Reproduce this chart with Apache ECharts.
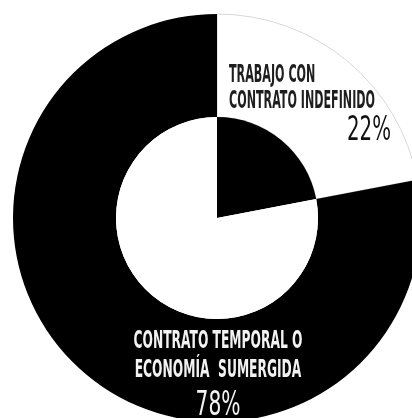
<!DOCTYPE html>
<html>
<head>
<meta charset="utf-8">
<script src="https://cdn.jsdelivr.net/npm/echarts@6/dist/echarts.min.js"></script>
<style>
html,body{margin:0;padding:0;background:#fff;}
#c{width:412px;height:418px;}
</style>
</head>
<body>
<div id="c"></div>
<script>
var categories = ['TRABAJO CON CONTRATO INDEFINIDO', 'CONTRATO TEMPORAL O ECONOMÍA SUMERGIDA'];
var values = [22, 78];
var labelLines = [['TRABAJO CON', 'CONTRATO INDEFINIDO'], ['CONTRATO TEMPORAL O', 'ECONOMÍA  SUMERGIDA']];
var percentLabels = ['22%', '78%'];

var FONT = '"Liberation Sans Narrow", "DejaVu Sans Condensed", "Liberation Sans", sans-serif';
var cv = document.createElement('canvas').getContext('2d');
function w(text, size, weight) {
  cv.font = weight + ' ' + size + 'px ' + FONT;
  return cv.measureText(text).width;
}
function sx(text, size, weight, target) { return target / w(text, size, weight); }

var chart = echarts.init(document.getElementById('c'), null, {renderer: 'canvas'});
var cx = 217, cy = 218, rOut = 204, rIn = 101;

var topScale = sx(labelLines[0][1], 22, 'bold', 146);
var botScale = sx(labelLines[1][0], 22, 'bold', 169);
var p1Scale = sx(percentLabels[0], 32, 'normal', 44);
var p2Scale = sx(percentLabels[1], 32, 'normal', 45);

function txt(text, x, y, size, weight, color, align, scale, scy) {
  return {
    type: 'text', x: x, y: y, scaleX: scale, scaleY: scy, z: 100,
    style: {text: text, font: weight + ' ' + size + 'px ' + FONT, fill: color,
            textAlign: align, textVerticalAlign: 'middle'}
  };
}

chart.setOption({
  animation: false,
  backgroundColor: '#fff',
  series: [
    {
      type: 'pie', center: [cx, cy], radius: [rIn, rOut], startAngle: 90, clockwise: true,
      label: {show: false}, labelLine: {show: false}, silent: true,
      data: [
        {name: categories[0], value: values[0], itemStyle: {color: '#ffffff', borderColor: '#d8d8d8', borderWidth: 1}},
        {name: categories[1], value: values[1], itemStyle: {color: '#000000'}}
      ]
    },
    {
      type: 'pie', center: [cx, cy], radius: [0, rIn], startAngle: 90, clockwise: true,
      label: {show: false}, labelLine: {show: false}, silent: true,
      data: [
        {name: categories[0], value: values[0], itemStyle: {color: '#000000'}},
        {name: categories[1], value: values[1], itemStyle: {color: '#ffffff'}}
      ]
    }
  ],
  graphic: [
    txt(labelLines[0][0], 229, 76, 22, 'bold', '#1e1e1e', 'left', topScale, 1.12),
    txt(labelLines[0][1], 229, 102, 22, 'bold', '#1e1e1e', 'left', topScale, 1.12),
    txt(percentLabels[0], 391, 131, 32, 'normal', '#111111', 'right', p1Scale, 1.05),
    txt(labelLines[1][0], 218, 342, 22, 'bold', '#f2f2f2', 'center', botScale, 1.12),
    txt(labelLines[1][1], 218, 371, 22, 'bold', '#f2f2f2', 'center', botScale, 1.12),
    txt(percentLabels[1], 218, 406, 32, 'normal', '#f2f2f2', 'center', p2Scale, 1.05)
  ]
});
</script>
</body>
</html>
